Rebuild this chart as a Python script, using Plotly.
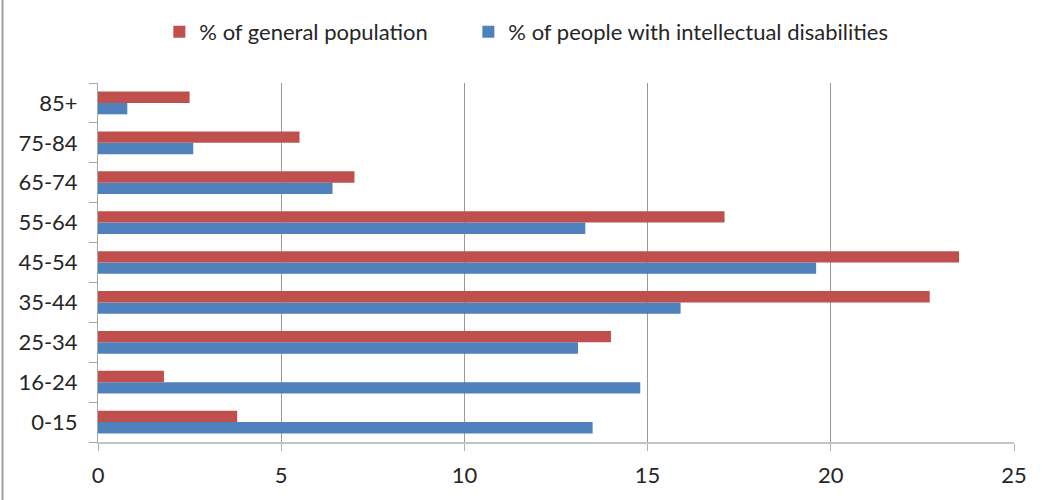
import plotly.graph_objects as go

# Age bands, bottom to top
age_groups = ["0-15", "16-24", "25-34", "35-44", "45-54", "55-64", "65-74", "75-84", "85+"]

# Share of each age band (%)
general_population = [3.8, 1.8, 14.0, 22.7, 23.5, 17.1, 7.0, 5.5, 2.5]
intellectual_disabilities = [13.5, 14.8, 13.1, 15.9, 19.6, 13.3, 6.4, 2.6, 0.8]

x_ticks = [0, 5, 10, 15, 20, 25]

RED = "#C0504D"
BLUE = "#4F81BD"
FONT = "Lato"
TEXT = "#262626"
SIZE = 22

fig = go.Figure()
# Blue trace first so it sits below the red bar within each group
fig.add_trace(go.Bar(
    y=age_groups, x=intellectual_disabilities, orientation="h",
    name="% of people with intellectual disabilities",
    marker=dict(color=BLUE, line=dict(width=0)),
    legend="legend2",
))
fig.add_trace(go.Bar(
    y=age_groups, x=general_population, orientation="h",
    name="% of general population",
    marker=dict(color=RED, line=dict(width=0)),
    legend="legend",
))

legend_style = dict(
    orientation="h", xanchor="left", yanchor="middle", y=1.142,
    font=dict(family=FONT, size=SIZE, color=TEXT),
    itemwidth=30, bgcolor="rgba(0,0,0,0)",
)

fig.update_layout(
    width=1045, height=500,
    margin=dict(l=98, r=31, t=83, b=58, autoexpand=False),
    paper_bgcolor="white", plot_bgcolor="white",
    barmode="group", bargap=0.43, bargroupgap=0,
    font=dict(family=FONT, size=SIZE, color=TEXT),
    showlegend=True,
    legend=dict(x=0.067, **legend_style),
    legend2=dict(x=0.067 + 309 / 916, **legend_style),
    xaxis=dict(
        range=[0, 25], tickvals=x_ticks, ticktext=[str(v) for v in x_ticks],
        showgrid=True, gridcolor="#9a9a9a", gridwidth=1,
        showline=True, linecolor="#c4c4c4", linewidth=2,
        ticks="outside", ticklen=7, tickcolor="#b0b0b0", tickwidth=1,
        ticklabelstandoff=6,
        zeroline=False, fixedrange=True,
        tickfont=dict(family=FONT, size=SIZE, color=TEXT),
    ),
    yaxis=dict(
        type="category", categoryorder="array", categoryarray=age_groups,
        showgrid=False, showline=True, linecolor="#a6a6a6", linewidth=1,
        ticks="outside", ticklen=8, tickcolor="#a6a6a6", tickwidth=1,
        tickson="boundaries", ticklabelstandoff=15,
        fixedrange=True,
        tickfont=dict(family=FONT, size=SIZE, color=TEXT),
    ),
    shapes=[
        # outer frame edge along the left side
        dict(type="line", xref="paper", yref="paper",
             x0=-(95.5 / 916), x1=-(95.5 / 916), y0=-0.2, y1=1.3,
             line=dict(color="#a0a0a0", width=2)),
    ],
)

fig.write_html("out.html")
